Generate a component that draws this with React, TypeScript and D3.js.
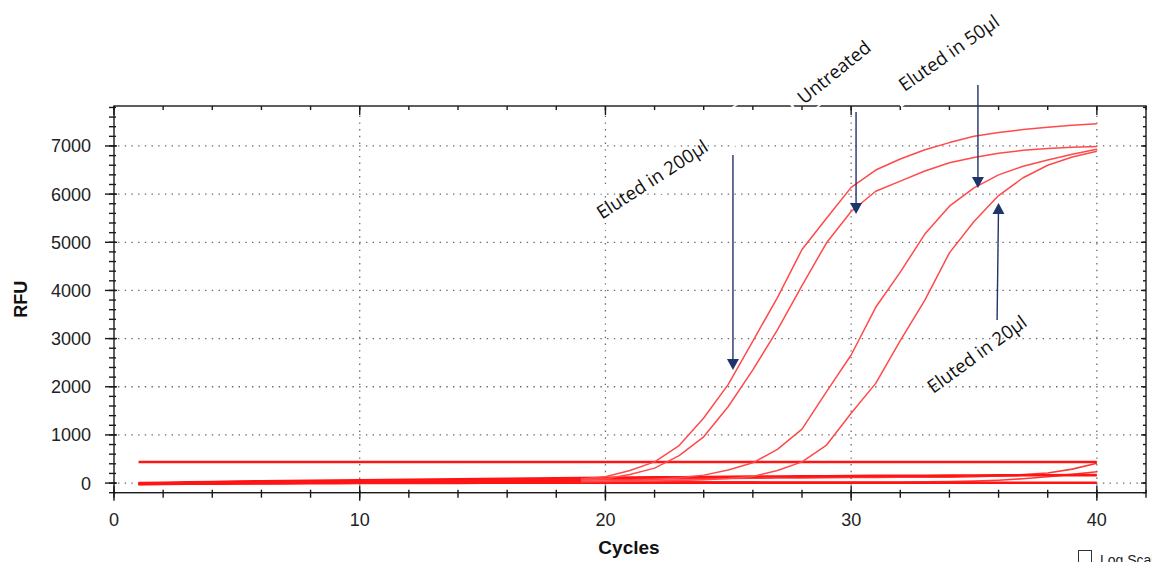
import React from "react";
import * as d3 from "d3";

// Amplification plot: RFU per PCR cycle for several wells
const cycles = [1, 2, 3, 4, 5, 6, 7, 8, 9, 10, 11, 12, 13, 14, 15, 16, 17, 18, 19, 20,
  21, 22, 23, 24, 25, 26, 27, 28, 29, 30, 31, 32, 33, 34, 35, 36, 37, 38, 39, 40];

const eluted200 = [-20, -15, -10, -5, 0, 5, 10, 15, 20, 25, 30, 35, 40, 45, 50, 55, 60, 70, 85, 130,
  260, 440, 780, 1350, 2050, 2950, 3850, 4850, 5500, 6140, 6500, 6730, 6920, 7070, 7200, 7280, 7340, 7390, 7430, 7460];

const untreated = [-10, -8, -5, -2, 0, 4, 8, 12, 16, 20, 24, 28, 32, 36, 40, 44, 48, 55, 65, 90,
  180, 310, 570, 960, 1590, 2350, 3180, 4100, 4990, 5640, 6060, 6270, 6480, 6650, 6760, 6850, 6910, 6950, 6975, 6990];

const eluted50 = [-15, -10, -8, -5, -2, 0, 3, 6, 9, 12, 15, 18, 21, 24, 27, 30, 33, 36, 40, 45,
  55, 75, 110, 165, 270, 420, 700, 1120, 1900, 2660, 3650, 4380, 5170, 5750, 6130, 6400, 6580, 6710, 6830, 6930];

const eluted20 = [-10, -8, -6, -4, -2, 0, 2, 4, 6, 8, 10, 12, 14, 16, 18, 20, 22, 25, 28, 32,
  38, 45, 55, 70, 95, 135, 260, 440, 790, 1450, 2070, 2960, 3800, 4780, 5430, 5970, 6340, 6600, 6770, 6890];

// Non-amplifying wells
const flatHigh = [438, 438, 438, 438, 438, 438, 438, 438, 438, 438, 438, 438, 438, 438, 438, 438, 438, 438, 438, 438,
  438, 438, 438, 438, 438, 438, 438, 438, 438, 438, 438, 438, 438, 438, 438, 438, 438, 438, 438, 438];
const driftLow = [0, 8, 15, 22, 30, 36, 42, 48, 54, 60, 65, 70, 75, 80, 85, 90, 95, 100, 105, 110,
  114, 118, 122, 126, 130, 134, 137, 140, 143, 146, 149, 151, 153, 155, 157, 159, 161, 163, 165, 166];
const flatZero = [-25, -20, -15, -12, -10, -8, -6, -4, -2, 0, 2, 3, 4, 5, 6, 7, 8, 9, 10, 10,
  10, 9, 9, 8, 8, 8, 7, 7, 7, 6, 6, 6, 6, 6, 6, 6, 6, 6, 6, 6];
const lateA = [-15, -10, -5, 0, 5, 10, 15, 20, 25, 30, 35, 40, 45, 50, 55, 60, 64, 68, 72, 76,
  80, 84, 88, 92, 96, 100, 104, 108, 112, 116, 118, 120, 122, 124, 130, 150, 175, 210, 290, 410];
const lateB = [-20, -15, -10, -6, -2, 0, 3, 6, 9, 12, 14, 16, 18, 20, 22, 24, 26, 28, 30, 30,
  30, 30, 30, 28, 26, 24, 22, 20, 20, 20, 20, 22, 25, 30, 40, 60, 90, 130, 180, 235];

const ampSeries = [eluted200, untreated, eluted50, eluted20];
const flatSeries = [flatHigh, driftLow, flatZero];
const lateSeries = [lateA, lateB];

const xMajorTicks = [0, 10, 20, 30, 40];
const xMinorTicks = [0, 2, 4, 6, 8, 10, 12, 14, 16, 18, 20, 22, 24, 26, 28, 30, 32, 34, 36, 38, 40, 42];
const yMajorTicks = [0, 1000, 2000, 3000, 4000, 5000, 6000, 7000];
const yGridTicks = [0, 1000, 2000, 3000, 4000, 5000, 6000, 7000];
const xGridTicks = [10, 20, 30, 40];

// Callouts: label text, label anchor (cycle, RFU), rotation, arrow from/to (cycle, RFU)
const calloutLabels = ["Eluted in 200\u00b5l", "Untreated", "Eluted in 50\u00b5l", "Eluted in 20\u00b5l"];
const calloutAnchors = [[19.86, 5470], [28.08, 7849], [32.17, 8119], [33.34, 1850]];
const calloutAngles = [-33, -39, -35, -36];
// text-box outline extents in the label's own frame: [left, top, right, bottom] in px
const calloutBoxes = [[-10, -23, 222, 10], [-10, -25, 95, 10], [-10.5, -26, 120, 10], null];
const arrowFrom = [[25.19, 6812], [30.2, 7705], [35.16, 8264], [35.94, 3386]];
const arrowTo = [[25.19, 2348], [30.2, 5587], [35.16, 6127], [36.0, 5815]];

const W = 1152;
const H = 562;

export default function App() {
  const x = d3.scaleLinear().domain([0, 42]).range([114, 1146]);
  const y = d3.scaleLinear().domain([-200, 7830]).range([492.7, 106]);
  const line = d3
    .line<number>()
    .x((_, i) => x(cycles[i]))
    .y((d) => y(d));

  const left = x(0);
  const right = x(42);
  const top = y(7830);
  const bottom = y(-200);
  const yMinorTicks = d3.range(-200, 7801, 200);
  const axisColor = "#1a1a1a";
  const textFont = "'Liberation Sans', Arial, sans-serif";
  const navy = "#1f3468";

  return (
    <svg
      width={W}
      height={H}
      viewBox={`0 0 ${W} ${H}`}
      style={{ position: "absolute", left: 0, top: 0, background: "#fff" }}
    >
      {/* grid */}
      <g stroke="#6a6a6a" strokeWidth={1.3} strokeDasharray="1.4 5.3">
        {yGridTicks.map((t) => (
          <line key={`gy${t}`} x1={left + 4} x2={right} y1={y(t)} y2={y(t)} />
        ))}
        {xGridTicks.map((t) => (
          <line key={`gx${t}`} x1={x(t)} x2={x(t)} y1={top + 3} y2={bottom} />
        ))}
      </g>

      {/* non-amplifying wells */}
      <g fill="none" stroke="#ff1414" strokeLinejoin="round">
        {flatSeries.map((s, i) => (
          <path key={`f${i}`} d={line(s) || ""} strokeWidth={2.6} />
        ))}
        {lateSeries.map((s, i) => (
          <path key={`l${i}`} d={line(s) || ""} strokeWidth={1.6} strokeOpacity={0.85} />
        ))}
      </g>

      {/* amplification curves */}
      <g fill="none" stroke="#ff4a4a" strokeWidth={1.5} strokeLinejoin="round">
        {ampSeries.map((s, i) => (
          <path key={`a${i}`} d={line(s) || ""} />
        ))}
      </g>
      {/* shared early baseline bundle */}
      <g fill="none" stroke="#ff1414" strokeWidth={2.2} strokeOpacity={0.8}>
        {ampSeries.map((s, i) => (
          <path key={`b${i}`} d={line(s.slice(0, 19)) || ""} />
        ))}
      </g>

      {/* frame */}
      <g stroke={axisColor} strokeWidth={1.4} fill="none">
        <rect x={left} y={top} width={right - left} height={bottom - top} />
        {/* left axis ticks */}
        {yMinorTicks.map((t) => (
          <line key={`ly${t}`} x1={left - 5} x2={left + 2} y1={y(t)} y2={y(t)} />
        ))}
        {yMajorTicks.map((t) => (
          <line key={`lY${t}`} x1={left - 9} x2={left + 3} y1={y(t)} y2={y(t)} />
        ))}
        {/* right axis ticks */}
        {yMinorTicks.map((t) => (
          <line key={`ry${t}`} x1={right - 3} x2={right} y1={y(t)} y2={y(t)} />
        ))}
        {yMajorTicks.map((t) => (
          <line key={`rY${t}`} x1={right - 5} x2={right} y1={y(t)} y2={y(t)} />
        ))}
        {/* bottom axis ticks */}
        {xMinorTicks.map((t) => (
          <line key={`bx${t}`} x1={x(t)} x2={x(t)} y1={bottom - 3} y2={bottom + 5} />
        ))}
        {xMajorTicks.map((t) => (
          <line key={`bX${t}`} x1={x(t)} x2={x(t)} y1={bottom - 7} y2={bottom + 8} />
        ))}
        {/* top axis ticks */}
        {xMinorTicks.map((t) => (
          <line key={`tx${t}`} x1={x(t)} x2={x(t)} y1={top} y2={top + 4} />
        ))}
        {xMajorTicks.map((t) => (
          <line key={`tX${t}`} x1={x(t)} x2={x(t)} y1={top} y2={top + 9} />
        ))}
      </g>

      {/* tick labels */}
      <g fontFamily={textFont} fontSize={18} fill="#222">
        {yMajorTicks.map((t) => (
          <text key={`yl${t}`} x={left - 23} y={y(t)} dy="0.36em" textAnchor="end">
            {t}
          </text>
        ))}
        {xMajorTicks.map((t) => (
          <text key={`xl${t}`} x={x(t)} y={526} textAnchor="middle">
            {t}
          </text>
        ))}
      </g>

      {/* axis titles */}
      <text
        x={0}
        y={0}
        transform={`translate(27,${(top + bottom) / 2}) rotate(-90)`}
        textAnchor="middle"
        fontFamily={textFont}
        fontWeight="bold"
        fontSize={18}
        fill="#111"
      >
        RFU
      </text>
      <text
        x={629}
        y={554}
        textAnchor="middle"
        fontFamily={textFont}
        fontWeight="bold"
        fontSize={19}
        fill="#111"
      >
        Cycles
      </text>

      {/* callout arrows */}
      <g stroke={navy} strokeWidth={1.4} fill={navy}>
        {arrowFrom.map((f, i) => {
          const x1 = x(f[0]);
          const y1 = y(f[1]);
          const x2 = x(arrowTo[i][0]);
          const y2 = y(arrowTo[i][1]);
          const ang = Math.atan2(y2 - y1, x2 - x1);
          const hl = 11;
          const hw = 6;
          const bx = x2 - hl * Math.cos(ang);
          const by = y2 - hl * Math.sin(ang);
          const px = -Math.sin(ang) * hw;
          const py = Math.cos(ang) * hw;
          return (
            <g key={`ar${i}`}>
              <line x1={x1} y1={y1} x2={bx} y2={by} />
              <path
                d={`M${x2},${y2}L${bx + px},${by + py}L${bx - px},${by - py}Z`}
                stroke="none"
              />
            </g>
          );
        })}
      </g>

      {/* callout labels with their (white) text-box outlines */}
      <g fontFamily="'Open Sans', 'Noto Sans', sans-serif" fontSize={18.5} fill="#111">
        {calloutLabels.map((lab, i) => {
          const box = calloutBoxes[i];
          return (
            <g
              key={`cl${i}`}
              transform={`translate(${x(calloutAnchors[i][0])},${y(calloutAnchors[i][1])}) rotate(${calloutAngles[i]})`}
            >
              {box && (
                <rect
                  x={box[0]}
                  y={box[1]}
                  width={box[2] - box[0]}
                  height={box[3] - box[1]}
                  fill="none"
                  stroke="#fff"
                  strokeWidth={1.6}
                />
              )}
              <text>{lab}</text>
            </g>
          );
        })}
      </g>

      {/* log scale toggle */}
      <rect x={1078.5} y={550.5} width={13} height={13} fill="#fff" stroke="#333" strokeWidth={1} />
      <text x={1100} y={565} fontFamily={textFont} fontSize={14} fill="#222">
        Log Scale
      </text>
    </svg>
  );
}
